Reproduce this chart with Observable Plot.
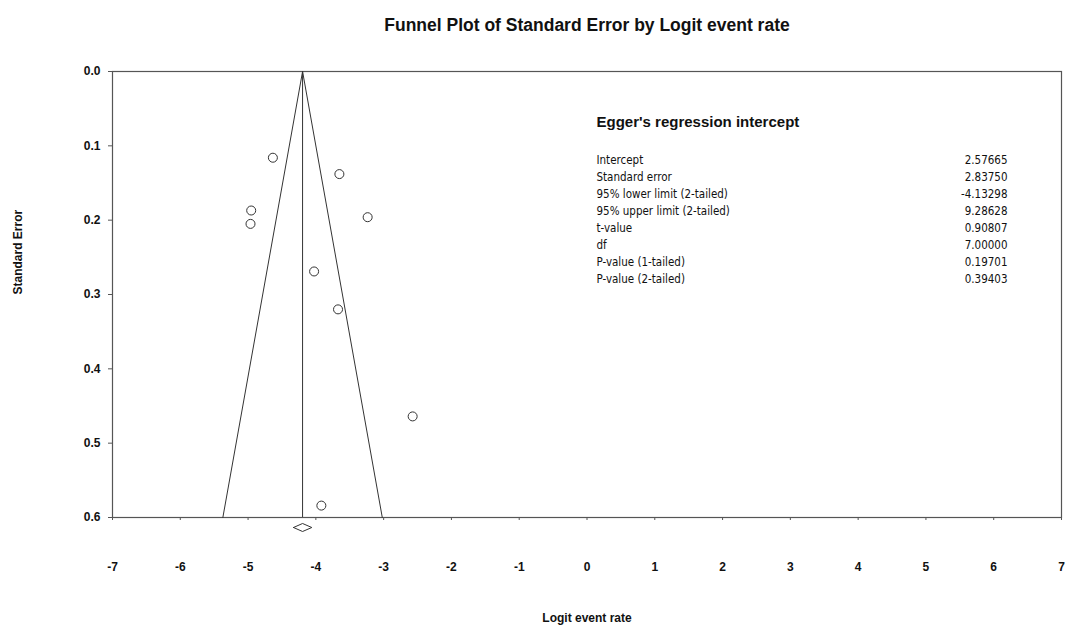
<!DOCTYPE html>
<html>
<head>
<meta charset="utf-8">
<script src="https://cdn.jsdelivr.net/npm/d3@7"></script>
<script src="https://cdn.jsdelivr.net/npm/@observablehq/plot@0.6"></script>
<style>
  html, body { margin: 0; padding: 0; background: #fff; }
  #chart svg { display: block; }
</style>
</head>
<body>
<div id="chart"></div>
<script>
// Study estimates (logit event rate, standard error)
const logitRate = [-4.634, -3.653, -4.954, -4.964, -3.236, -4.026, -3.673, -2.572, -3.919];
const stdError  = [0.116, 0.138, 0.187, 0.205, 0.196, 0.269, 0.320, 0.464, 0.584];

// Combined estimate (diamond)
const combinedMean = -4.196;
const combinedLower = -4.33;
const combinedUpper = -4.06;

// Axis ticks
const xTicks = [-7, -6, -5, -4, -3, -2, -1, 0, 1, 2, 3, 4, 5, 6, 7];
const yTicks = [0, 0.1, 0.2, 0.3, 0.4, 0.5, 0.6];
const seMax = 0.6;

// Egger's regression table
const eggerTitle = "Egger's regression intercept";
const eggerLabels = ["Intercept", "Standard error", "95% lower limit (2-tailed)", "95% upper limit (2-tailed)", "t-value", "df", "P-value (1-tailed)", "P-value (2-tailed)"];
const eggerValues = ["2.57665", "2.83750", "-4.13298", "9.28628", "0.90807", "7.00000", "0.19701", "0.39403"];

const studies = logitRate.map((x, i) => ({x, se: stdError[i]}));
const funnel = [
  {x: combinedMean - 1.96 * seMax, y: seMax},
  {x: combinedMean, y: 0},
  {x: combinedMean + 1.96 * seMax, y: seMax}
];
const dh = 0.0054;
const diamond = [
  {x: combinedLower, y: seMax},
  {x: combinedMean, y: seMax - dh},
  {x: combinedUpper, y: seMax},
  {x: combinedMean, y: seMax + dh},
  {x: combinedLower, y: seMax}
];

const narrow = "'Liberation Sans Narrow', 'Arial Narrow', 'DejaVu Sans Condensed', sans-serif";

const chart = Plot.plot({
  width: 1065,
  height: 628,
  marginLeft: 112,
  marginRight: 4,
  marginTop: 71,
  marginBottom: 111,
  style: {fontFamily: "'Liberation Sans', Arial, sans-serif", background: "#fff", color: "#111"},
  x: {domain: [-7, 7]},
  y: {domain: [0, seMax], reverse: true},
  marks: [
    Plot.frame({stroke: "#555", strokeWidth: 1.2}),
    Plot.axisY({ticks: yTicks, tickFormat: d3.format(".1f"), tickSize: 4, tickPadding: 8, label: null, fontWeight: "bold", fontSize: 12, stroke: "#555"}),
    Plot.axisX({ticks: xTicks, tickFormat: d => String(d), tickSize: 3, tickPadding: 42, label: null, fontWeight: "bold", fontSize: 12, stroke: "#555"}),
    Plot.line(funnel, {x: "x", y: "y", stroke: "#333", strokeWidth: 1}),
    Plot.ruleX([combinedMean], {y1: 0, y2: seMax, stroke: "#333", strokeWidth: 1}),
    Plot.dot(studies, {x: "x", y: "se", r: 4.5, stroke: "#333", fill: "#fff", strokeWidth: 1}),
    Plot.line(diamond, {x: "x", y: "y", dy: 10, stroke: "#333", strokeWidth: 1}),
    // Title
    Plot.text([`Funnel Plot of Standard Error by Logit event rate`], {frameAnchor: "top", dy: -46, fontWeight: "bold", fontSize: 17.5, lineAnchor: "middle"}),
    // Axis labels
    Plot.text(["Standard Error"], {frameAnchor: "left", dx: -94, rotate: -90, fontWeight: "bold", fontSize: 12, lineAnchor: "middle"}),
    Plot.text(["Logit event rate"], {frameAnchor: "bottom", dx: 0, dy: 101, fontWeight: "bold", fontSize: 12, lineAnchor: "middle"}),
    // Egger table
    Plot.text([eggerTitle], {frameAnchor: "top-left", dx: 484, dy: 51, textAnchor: "start", lineAnchor: "middle", fontWeight: "bold", fontSize: 15}),
    Plot.text([eggerLabels.join("\n")], {frameAnchor: "top-left", dx: 484, dy: 80, textAnchor: "start", lineAnchor: "top", lineHeight: 1.48, fontSize: 11.5, fontFamily: narrow}),
    Plot.text([eggerValues.join("\n")], {frameAnchor: "top-right", dx: -54, dy: 80, textAnchor: "end", lineAnchor: "top", lineHeight: 1.48, fontSize: 11.5, fontFamily: narrow})
  ]
});
document.getElementById("chart").appendChild(chart);
</script>
</body>
</html>
